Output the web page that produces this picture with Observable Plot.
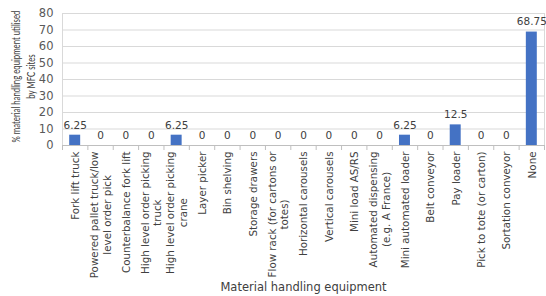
<!DOCTYPE html>
<html><head><meta charset="utf-8">
<script src="https://cdn.jsdelivr.net/npm/d3@7"></script>
<script src="https://cdn.jsdelivr.net/npm/@observablehq/plot@0.6"></script>
<style>body{margin:0;background:#fff} svg{display:block}</style>
</head><body><div id="chart"></div>
<script>
const categories = [
  "Fork lift truck",
  "Powered pallet truck/low\nlevel order pick",
  "Counterbalance fork lift",
  "High level order picking\ntruck",
  "High level order picking\ncrane",
  "Layer picker",
  "Bin shelving",
  "Storage drawers",
  "Flow rack (for cartons or\ntotes)",
  "Horizontal carousels",
  "Vertical carousels",
  "Mini load AS/RS",
  "Automated dispensing\n(e.g. A France)",
  "Mini automated loader",
  "Belt conveyor",
  "Pay loader",
  "Pick to tote (or carton)",
  "Sortation conveyor",
  "None"
];
const values = [6.25, 0, 0, 0, 6.25, 0, 0, 0, 0, 0, 0, 0, 0, 6.25, 0, 12.5, 0, 0, 68.75];
const yTicks = [0, 10, 20, 30, 40, 50, 60, 70, 80];
const yTitle = "% material handling equipment utilised\nby MFC sites";
const xTitle = "Material handling equipment";

const data = categories.map((c, i) => ({i, c, v: values[i]}));
const n = categories.length;
const font = "DejaVu Sans";

const plot = Plot.plot({
  width: 546, height: 296,
  marginLeft: 62, marginRight: 2, marginTop: 13, marginBottom: 151,
  style: {fontFamily: font, background: "#fff"},
  x: {type: "linear", domain: [0, n], axis: null},
  y: {domain: [0, 80], axis: null},
  marks: [
    Plot.gridY(yTicks, {stroke: "#d9d9d9", strokeOpacity: 1}),
    Plot.ruleX([0, n], {stroke: "#d9d9d9"}),
    Plot.rectY(data, {x1: "i", x2: d => d.i + 1, y: "v", fill: "#4472C4", insetLeft: 7.2, insetRight: 7.2}),
    Plot.ruleY([0], {stroke: "#bfbfbf"}),
    Plot.axisY(yTicks, {tickSize: 0, tickPadding: 9, fontSize: 11.5, color: "#595959", label: null}),
    Plot.axisX(d3.range(n + 1), {tickSize: 5, tickFormat: () => "", label: null, color: "#bfbfbf"}),
    Plot.axisX(d3.range(n).map(i => i + 0.5), {
      tickSize: 0, tickPadding: 6, tickRotate: -90,
      tickFormat: v => categories[Math.floor(v)],
      fontSize: 10.3, color: "#404040", label: null, lineHeight: 1.2
    }),
    Plot.text(data, {x: d => d.i + 0.5, y: "v", text: d => String(d.v), dy: -10, fontSize: 10.5, fill: "#404040"}),
    Plot.text([yTitle], {frameAnchor: "left", textAnchor: "middle", lineAnchor: "middle", rotate: -90, dx: -40, dy: -3, fontSize: 10.5, fontFamily: "Lato", fill: "#404040", lineHeight: 1.45}),
    Plot.text([xTitle], {frameAnchor: "bottom", textAnchor: "middle", lineAnchor: "middle", dy: 142, fontSize: 11.5, fill: "#404040"})
  ]
});
document.getElementById("chart").appendChild(plot);

// center the lines of multi-line tick labels with each other
plot.querySelectorAll('g[aria-label="x-axis tick label"] text').forEach(t => {
  const spans = t.querySelectorAll("tspan");
  if (spans.length > 1) {
    const w = Math.max(...[...spans].map(s => s.getComputedTextLength()));
    t.setAttribute("text-anchor", "middle");
    spans.forEach(s => s.setAttribute("x", -w / 2));
  }
});
// condense the rotated y title along its length so it fits the height, as in the reference
const titleEl = [...plot.querySelectorAll("text")].find(t => t.textContent.startsWith("%"));
if (titleEl) {
  const spans = titleEl.querySelectorAll("tspan");
  (spans.length ? [...spans] : [titleEl]).forEach(s => {
    const len = s.getComputedTextLength();
    s.setAttribute("textLength", len * 0.74);
    s.setAttribute("lengthAdjust", "spacingAndGlyphs");
  });
}
</script>
</body></html>
